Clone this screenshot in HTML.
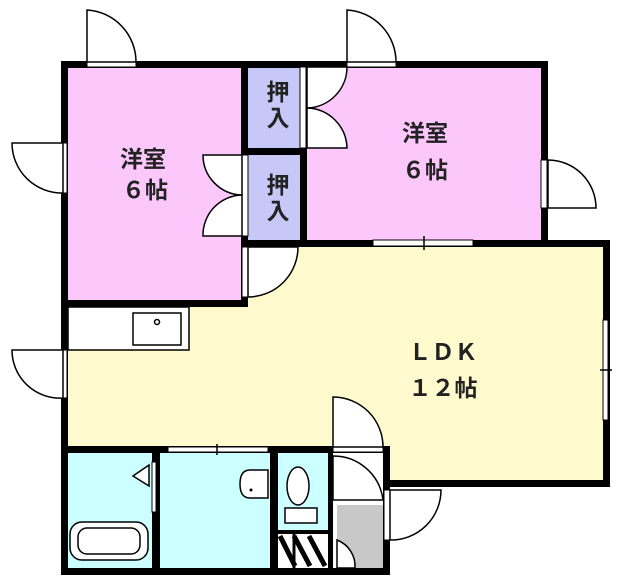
<!DOCTYPE html>
<html><head><meta charset="utf-8"><style>
html,body{margin:0;padding:0;background:#fff;width:622px;height:582px;overflow:hidden}
text{font-family:"Liberation Sans","Noto Sans CJK JP",sans-serif;fill:#222}
</style></head><body>
<svg width="622" height="582" viewBox="0 0 622 582" xmlns="http://www.w3.org/2000/svg">
<!-- fills -->
<rect x="64" y="244" width="542" height="206" fill="#fffacd"/>
<rect x="383" y="244" width="223" height="240" fill="#fffacd"/>
<rect x="64" y="64" width="180" height="240" fill="#fcc8fc"/>
<rect x="304" y="64" width="240" height="180" fill="#fcc8fc"/>
<rect x="244" y="64" width="60" height="180" fill="#c8c8f8"/>
<rect x="64" y="450" width="210" height="120" fill="#ccffff"/>
<rect x="274" y="450" width="56" height="80" fill="#ccffff"/>
<rect x="330" y="450" width="56" height="120" fill="#fff"/>
<rect x="337" y="505" width="48" height="63" fill="#c8c8c8"/>
<!-- kitchen counter -->
<rect x="68" y="307" width="121" height="43" fill="#fff" stroke="#000" stroke-width="1.5"/>
<rect x="133" y="313" width="48" height="32" fill="#fff" stroke="#000" stroke-width="1.5"/>
<circle cx="157" cy="322" r="2.5" fill="none" stroke="#000" stroke-width="1.5"/>
<!-- walls -->
<g fill="#000">
<rect x="61" y="61" width="487" height="7"/>
<rect x="61" y="61" width="7" height="514"/>
<rect x="241" y="61" width="7" height="246"/>
<rect x="300" y="61" width="7" height="186"/>
<rect x="241" y="148" width="66" height="7"/>
<rect x="541" y="61" width="7" height="186"/>
<rect x="241" y="240" width="369" height="7"/>
<rect x="603" y="240" width="7" height="247"/>
<rect x="61" y="300" width="187" height="7"/>
<rect x="61" y="446" width="329" height="7"/>
<rect x="383" y="480" width="227" height="7"/>
<rect x="383" y="446" width="7" height="129"/>
<rect x="152" y="446" width="8" height="129"/>
<rect x="270" y="446" width="8" height="129"/>
<rect x="328" y="446" width="5" height="129"/>
<rect x="61" y="568" width="329" height="7"/>
<rect x="274" y="530" width="56" height="4"/>
</g>
<!-- closet hatch -->
<rect x="278" y="534" width="50" height="34" fill="#fff"/>
<g stroke="#000" stroke-width="5"><line x1="280" y1="536" x2="295" y2="566"/><line x1="294" y1="536" x2="310" y2="566"/><line x1="309" y1="536" x2="325" y2="566"/><line x1="294" y1="534" x2="294" y2="568" stroke-width="3"/></g>
<!-- openings (white) -->
<g fill="#fff" stroke="#000" stroke-width="1">
<rect x="87" y="61" width="49" height="6"/>
<rect x="347" y="61" width="49" height="6"/>
<rect x="61" y="143" width="6" height="50"/>
<rect x="61" y="350" width="6" height="48"/>
<rect x="541" y="160" width="6" height="48"/>
<rect x="300" y="67" width="6" height="81"/>
<rect x="242" y="155" width="6" height="81"/>
<rect x="242" y="247" width="6" height="50"/>
<rect x="373" y="240" width="100" height="6"/>
<rect x="603" y="320" width="5" height="100"/>
<rect x="168" y="447" width="100" height="5"/>
<rect x="152" y="462" width="4" height="50"/>
<rect x="333" y="447" width="50" height="5"/>
<rect x="384" y="490" width="6" height="50"/>
</g>
<g stroke="#000" stroke-width="1.5"><line x1="424" y1="236" x2="424" y2="250"/><line x1="600" y1="370" x2="612" y2="370"/><line x1="217" y1="444" x2="217" y2="455"/></g>
<!-- doors -->
<g fill="#fff" stroke="#000" stroke-width="1.5">
<path d="M87 62 V10 A52 52 0 0 1 136 62 Z"/>
<path d="M347 62 V10 A52 52 0 0 1 396 62 Z"/>
<path d="M63 143 H12 A50 50 0 0 0 63 193 Z"/>
<path d="M63 350 H12 A48 48 0 0 0 63 398 Z"/>
<path d="M548 160 A48 48 0 0 1 596 208 H548 Z"/>
<path d="M307 67 H347 A41 41 0 0 1 307 108 Z"/>
<path d="M307 148 H347 A41 41 0 0 0 307 108 Z"/>
<path d="M242 155 H203 A40 40 0 0 0 242 195 Z"/>
<path d="M242 236 H203 A40 40 0 0 1 242 195 Z"/>
<path d="M248 247 H298 A50 50 0 0 1 248 297 Z"/>
<path d="M333 447 V397 A50 50 0 0 1 383 447 Z"/>
<path d="M333 456 A50 50 0 0 1 383 500 H333 Z"/>
<path d="M390 490 H441 A50 50 0 0 1 390 540 Z"/>
<path d="M337 540 A28 28 0 0 1 355 568 H337 Z"/>
</g>
<!-- fixtures -->
<path d="M149 465 L133 476 L149 486 Z" fill="#fff" stroke="#000" stroke-width="1.5"/>
<rect x="70" y="522" width="78" height="38" rx="12" fill="#fff" stroke="#000" stroke-width="1.5"/>
<rect x="78" y="528" width="62" height="26" rx="9" fill="#fff" stroke="#000" stroke-width="1.5"/>
<path d="M268 470 H250 Q240 470 240 484 Q240 498 250 498 H268 Z" fill="#fff" stroke="#000" stroke-width="1.5"/>
<circle cx="251" cy="490" r="1.5" fill="#000"/>
<ellipse cx="298" cy="486" rx="11" ry="19" fill="#fff" stroke="#000" stroke-width="1.5"/>
<rect x="285" y="508" width="32" height="15" fill="#fff" stroke="#000" stroke-width="1.5"/>
<!-- labels -->
<g font-size="23" text-anchor="middle" font-weight="bold">
<text x="143" y="167">洋室</text>
<text x="145" y="198">６帖</text>
<text x="425" y="141">洋室</text>
<text x="425" y="178">６帖</text>
<text x="443" y="360">ＬＤＫ</text>
<text x="443" y="396">１２帖</text>
<text x="278" y="100">押</text>
<text x="278" y="126">入</text>
<text x="278" y="193">押</text>
<text x="278" y="219">入</text>
</g>
</svg>
</body></html>
